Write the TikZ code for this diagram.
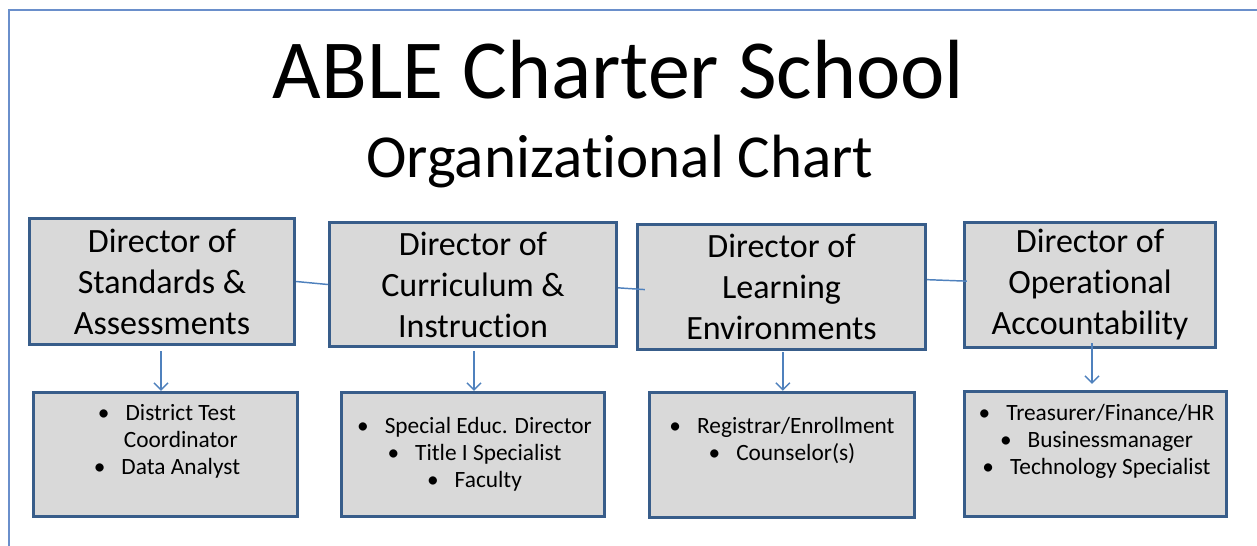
\documentclass[tikz,border=0pt]{standalone}
\usepackage{fontspec}
\setmainfont[Ligatures=NoCommon]{Carlito}
\usetikzlibrary{arrows.meta}
\definecolor{framecol}{HTML}{6A8FCB}
\definecolor{linkcol}{HTML}{4F81BD}
\definecolor{boxedge}{HTML}{385D8A}
\definecolor{boxfill}{HTML}{D9D9D9}
\tikzset{
  headbox/.style={draw=boxedge, fill=boxfill, line width=2.5pt, inner sep=0pt,
    align=center, font=\fontsize{25.5}{30.75}\selectfont},
  listbox/.style={draw=boxedge, fill=boxfill, line width=2.5pt, inner sep=0pt},
  listtext/.style={inner sep=0pt, anchor=north, align=center,
    font=\fontsize{17.5}{20.25}\selectfont},
  link/.style={draw=linkcol, line width=1.1pt},
  down/.style={link, -{Straight Barb[length=5.25pt,width=10.5pt,line width=1.1pt]}},
  frameline/.style={draw=framecol, line width=1.5pt}
}
\newcommand{\itm}{•\hspace{12pt}}
\newcommand{\cont}{\phantom{•}\hspace{12pt}}
\begin{document}
\begin{tikzpicture}[x=0.75pt, y=-0.75pt]
  \useasboundingbox (0,0) rectangle (1257,546);
  % page frame
  \draw[frameline] (9,546) -- (9,10) -- (1257,10);

  % title
  \node[anchor=base, inner sep=0pt, font=\fontsize{63}{70}\selectfont] (title) at (618.5,98) {ABLE Charter School};
  \node[anchor=base, inner sep=0pt, font=\fontsize{45.8}{52}\selectfont] (subtitle) at (620,177) {Organizational Chart};

  % directors
  \node[headbox, minimum width=198.75pt, minimum height=94.5pt] (t1) at (162,281.5) {Director of\\Standards \&\\Assessments};
  \node[headbox, minimum width=215.25pt, minimum height=93pt] (t2) at (473,284.5) {Director of\\Curriculum \&\\Instruction};
  \node[headbox, minimum width=216pt, minimum height=93.75pt] (t3) at (781.5,287) {Director of\\Learning\\Environments};
  \node[headbox, minimum width=188.25pt, minimum height=93.75pt] (t4) at (1090,285) {Director of\\Operational\\Accountability};

  % staff boxes
  \node[listbox, minimum width=198pt, minimum height=93pt] (b1) at (165.5,454.5) {};
  \node[listbox, minimum width=197.25pt, minimum height=93pt] (b2) at (473,454.5) {};
  \node[listbox, minimum width=198.75pt, minimum height=93.75pt] (b3) at (782,455) {};
  \node[listbox, minimum width=196.5pt, minimum height=93.75pt] (b4) at (1095.5,454) {};

  \node[listtext] (l1) at (167,401) {\strut\itm District Test\\\cont Coordinator\\\itm Data Analyst};
  \node[listtext] (l2) at (474.5,414) {\strut\itm Special Educ. Director\\\itm Title I Specialist\\\itm Faculty};
  \node[listtext] (l3) at (782,414) {\strut\itm Registrar/Enrollment\\\itm Counselor(s)};
  \node[listtext] (l4) at (1096.5,401) {\strut\itm Treasurer/Finance/HR\\\itm Businessmanager\\\itm Technology Specialist};

  % links between directors
  \draw[link] (t1.east) -- (t2.west);
  \draw[link, shorten >=-6.75pt] ([yshift=-2.5pt]t2.east) -- ([yshift=-1.5pt]t3.west);
  \draw[link, shorten >=-3pt] ([yshift=5.5pt]t3.east) -- ([yshift=3pt]t4.west);

  % arrows down to staff
  \draw[down, shorten <=3.75pt] ([xshift=-0.75pt]t1.south) -- ([xshift=-0.75pt]t1.south |- b1.north);
  \draw[down, shorten <=2.25pt] ([xshift=0.75pt]t2.south) -- ([xshift=0.75pt]t2.south |- b2.north);
  \draw[down, shorten <=0.75pt] ([xshift=1pt]t3.south) -- ([xshift=1pt]t3.south |- b3.north);
  \draw[down, shorten <=-4.5pt, shorten >=4.5pt] ([xshift=1.5pt]t4.south) -- ([xshift=1.5pt]t4.south |- b4.north);
\end{tikzpicture}
\end{document}
